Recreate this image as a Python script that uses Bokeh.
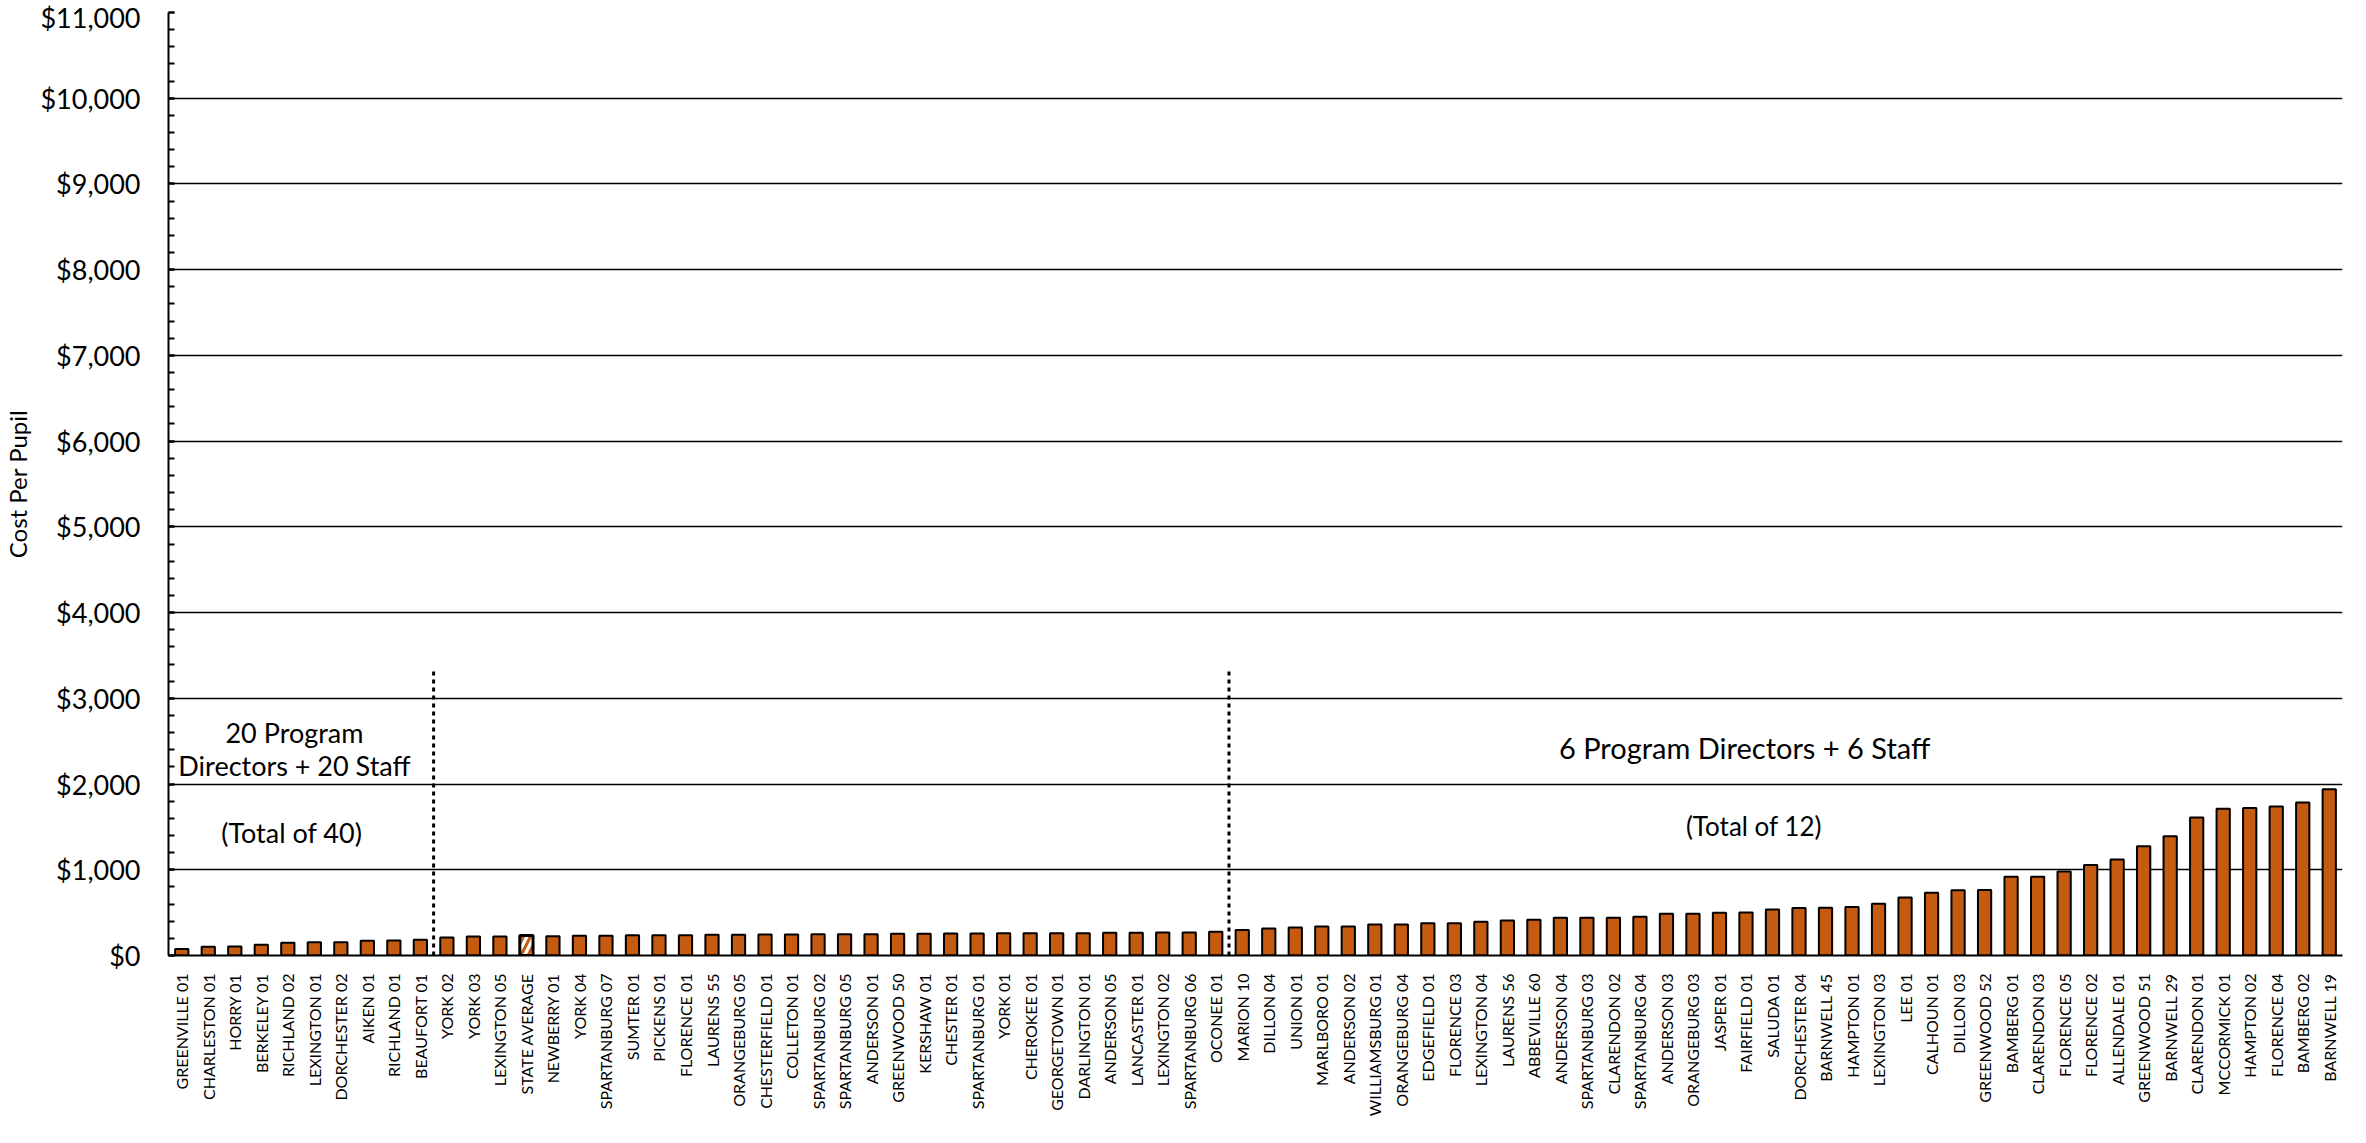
from bokeh.plotting import figure
from bokeh.models import (FactorRange, Range1d, SingleIntervalTicker, NumeralTickFormatter,
                          ColumnDataSource)
from bokeh.core.properties import value
from bokeh.embed import file_html
from bokeh.resources import INLINE
import numpy as np

# ---------------- data ----------------
districts = [
    "GREENVILLE 01", "CHARLESTON 01", "HORRY 01", "BERKELEY 01", "RICHLAND 02", "LEXINGTON 01",
    "DORCHESTER 02", "AIKEN 01", "RICHLAND 01", "BEAUFORT 01",
    "YORK 02", "YORK 03", "LEXINGTON 05", "STATE AVERAGE", "NEWBERRY 01", "YORK 04",
    "SPARTANBURG 07", "SUMTER 01", "PICKENS 01", "FLORENCE 01", "LAURENS 55", "ORANGEBURG 05",
    "CHESTERFIELD 01", "COLLETON 01", "SPARTANBURG 02", "SPARTANBURG 05", "ANDERSON 01",
    "GREENWOOD 50", "KERSHAW 01", "CHESTER 01", "SPARTANBURG 01", "YORK 01", "CHEROKEE 01",
    "GEORGETOWN 01", "DARLINGTON 01", "ANDERSON 05", "LANCASTER 01", "LEXINGTON 02",
    "SPARTANBURG 06", "OCONEE 01",
    "MARION 10", "DILLON 04", "UNION 01", "MARLBORO 01", "ANDERSON 02", "WILLIAMSBURG 01",
    "ORANGEBURG 04", "EDGEFIELD 01", "FLORENCE 03", "LEXINGTON 04", "LAURENS 56", "ABBEVILLE 60",
    "ANDERSON 04", "SPARTANBURG 03", "CLARENDON 02", "SPARTANBURG 04", "ANDERSON 03",
    "ORANGEBURG 03", "JASPER 01", "FAIRFIELD 01", "SALUDA 01", "DORCHESTER 04", "BARNWELL 45",
    "HAMPTON 01", "LEXINGTON 03", "LEE 01", "CALHOUN 01", "DILLON 03", "GREENWOOD 52",
    "BAMBERG 01", "CLARENDON 03", "FLORENCE 05", "FLORENCE 02", "ALLENDALE 01", "GREENWOOD 51",
    "BARNWELL 29", "CLARENDON 01", "MCCORMICK 01", "HAMPTON 02", "FLORENCE 04", "BAMBERG 02",
    "BARNWELL 19",
]
cost_per_pupil = [
    75, 101, 105, 124, 148, 156, 156, 171, 175, 183,
    210, 222, 222, 232, 226, 230, 230, 237, 237, 237,
    241, 241, 245, 245, 249, 249, 249, 253, 253, 257,
    257, 261, 261, 261, 261, 265, 265, 268, 268, 276,
    298, 315, 327, 338, 338, 362, 362, 377, 377, 393,
    408, 416, 440, 440, 440, 451, 486, 486, 498, 502,
    536, 554, 558, 565, 604, 678, 733, 760, 764, 920,
    920, 979, 1057, 1119, 1275, 1392, 1610, 1712, 1720, 1739,
    1786, 1938,
]
highlight = "STATE AVERAGE"

group_sizes = [10, 30, 42]          # districts per staffing group
divider_top = 3350                  # height of dotted dividers

ann_text = ["20 Program", "Directors + 20 Staff", "(Total of 40)",
            "6 Program Directors + 6 Staff", "(Total of 12)"]
ann_x = [4.75, 4.75, 4.65, 59.45, 59.8]
ann_y = [2600, 2215, 1432, 2425, 1505]
ann_size = ["27px", "27px", "27px", "29px", "26px"]

y_max = 11000

# ---------------- figure ----------------
p = figure(
    x_range=FactorRange(*districts), y_range=Range1d(0, y_max),
    frame_width=2174, frame_height=943, output_backend="svg", toolbar_location=None,
    min_border_left=167, min_border_right=1, min_border_top=12, min_border_bottom=150,
)
p.outline_line_color = None
p.background_fill_color = "white"

reg_names = [d for d in districts if d != highlight]
reg_vals = [v for d, v in zip(districts, cost_per_pupil) if d != highlight]
hi_vals = [v for d, v in zip(districts, cost_per_pupil) if d == highlight]

p.vbar(x=reg_names, top=reg_vals, width=0.5, bottom=0,
       fill_color="#C55A11", line_color="black", line_width=2)
p.vbar(x=[highlight], top=hi_vals, width=0.5, bottom=0,
       fill_color="white", line_color="black", line_width=3,
       hatch_pattern="/", hatch_color="#C55A11", hatch_scale=14, hatch_weight=3)

# dotted dividers between staffing groups
bounds = list(np.cumsum(group_sizes)[:-1].astype(float))
p.segment(x0=bounds, y0=[0] * len(bounds), x1=bounds, y1=[divider_top] * len(bounds),
          line_color="black", line_width=3, line_dash="4 4")

src = ColumnDataSource(dict(x=ann_x, y=ann_y, t=ann_text, s=ann_size))
p.text(x="x", y="y", text="t", source=src, text_align="center", text_baseline="middle",
       text_font=value("Lato"), text_font_size="s", text_color="black")

# ---------------- axes ----------------
p.xgrid.grid_line_color = None
p.ygrid.grid_line_color = "black"
p.ygrid.grid_line_width = 1.5

yt = SingleIntervalTicker(interval=1000, num_minor_ticks=5)
p.yaxis.ticker = yt
p.ygrid.ticker = yt
p.yaxis.formatter = NumeralTickFormatter(format="$0,0")
p.yaxis.axis_line_color = "black"
p.yaxis.axis_line_width = 2
p.yaxis.major_tick_in = 6
p.yaxis.major_tick_out = 0
p.yaxis.minor_tick_in = 6
p.yaxis.minor_tick_out = 0
p.yaxis.major_tick_line_color = "black"
p.yaxis.minor_tick_line_color = "black"
p.yaxis.major_tick_line_width = 2
p.yaxis.minor_tick_line_width = 2
p.yaxis.major_label_standoff = 28
p.yaxis.major_label_text_font = "Lato"
p.yaxis.major_label_text_font_size = "27px"
p.yaxis.major_label_text_color = "black"
p.yaxis.axis_label = "Cost Per Pupil"
p.yaxis.axis_label_text_font = "Lato"
p.yaxis.axis_label_text_font_size = "24px"
p.yaxis.axis_label_text_font_style = "normal"
p.yaxis.axis_label_text_color = "black"
p.yaxis.axis_label_standoff = 5

p.xaxis.axis_line_color = "black"
p.xaxis.axis_line_width = 2
p.xaxis.major_tick_line_color = None
p.xaxis.minor_tick_line_color = None
p.xaxis.major_tick_out = 0
p.xaxis.major_label_orientation = np.pi / 2
p.xaxis.major_label_standoff = 18
p.xaxis.major_label_text_font = "Lato"
p.xaxis.major_label_text_font_size = "16px"
p.xaxis.major_label_text_color = "black"

open("out.html", "w").write(file_html(p, INLINE))
